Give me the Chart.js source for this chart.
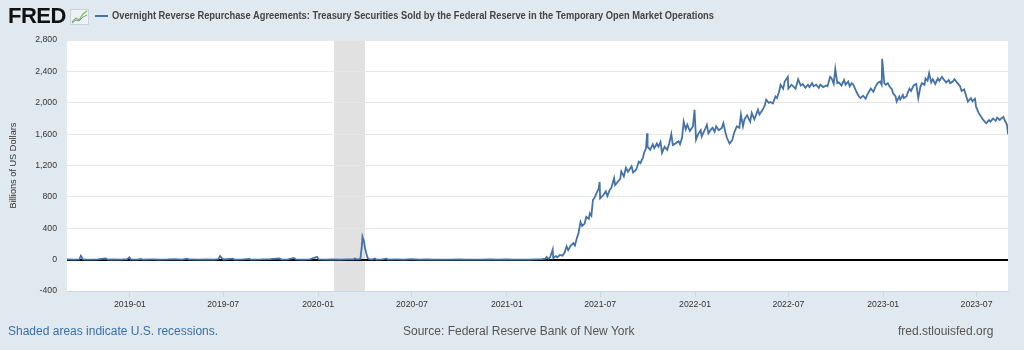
<!DOCTYPE html>
<html><head><meta charset="utf-8">
<script src="https://cdn.jsdelivr.net/npm/chart.js@4"></script>
<style>
html,body{margin:0;padding:0;background:#e1e9f0;width:1024px;height:350px;overflow:hidden;font-family:"Liberation Sans",Arial,sans-serif;}
#wrap{position:relative;width:1024px;height:350px;}
#chartBox{position:absolute;left:0;top:0;width:1024px;height:350px;}
#logo{position:absolute;left:8px;top:5px;font-weight:bold;font-size:22px;line-height:22px;letter-spacing:-0.5px;color:#111;}
#icon{position:absolute;left:70px;top:9px;}
#dash{position:absolute;left:95px;top:15px;width:13px;height:2px;background:#4572a7;}
#title{position:absolute;left:112px;top:10px;font-weight:bold;font-size:11px;line-height:11px;color:#444;white-space:nowrap;transform-origin:0 0;}
.foot{position:absolute;top:325px;font-size:12px;line-height:12px;white-space:nowrap;color:#555;}
</style>
</head><body>
<div id="wrap">
  <div id="chartBox"><canvas id="c"></canvas></div>
  <div id="logo">FRED</div>
  <svg id="icon" width="19" height="16"><rect x="0.5" y="0.5" width="18" height="15" fill="#eef2f5" stroke="#c9d3dc"/><polyline points="2,13 6,9 9,11 13,5 17,2" fill="none" stroke="#8dbb4f" stroke-width="1.3"/><polyline points="2,14 6,11 9,12 13,8 17,6" fill="none" stroke="#6b93c5" stroke-width="1"/></svg>
  <div id="dash"></div>
  <div id="title">Overnight Reverse Repurchase Agreements: Treasury Securities Sold by the Federal Reserve in the Temporary Open Market Operations</div>
  <div class="foot" style="left:8px;color:#3b6ea8;">Shaded areas indicate U.S. recessions.</div>
  <div class="foot" style="left:403px;">Source: Federal Reserve Bank of New York</div>
  <div class="foot" style="left:898px;">fred.stlouisfed.org</div>
</div>
<script>
// ---- data (billions of US dollars) ----
const obsDates = [
'2018-09-01','2018-09-14','2018-09-25','2018-09-28','2018-10-02','2018-10-16','2018-10-31','2018-11-15','2018-11-19','2018-11-30','2018-12-14','2018-12-27','2018-12-31',
'2019-01-03','2019-01-15','2019-01-23','2019-01-25','2019-02-15','2019-02-28','2019-03-15','2019-03-29','2019-04-12','2019-04-22','2019-04-25','2019-05-15','2019-05-31','2019-06-14','2019-06-21','2019-06-25','2019-06-28','2019-07-02','2019-07-19','2019-07-23','2019-08-09','2019-08-21','2019-08-23','2019-09-13','2019-09-30','2019-10-18','2019-10-22','2019-11-04','2019-11-15','2019-11-19','2019-12-02','2019-12-16','2019-12-30',
'2020-01-02','2020-01-15','2020-01-31','2020-02-14','2020-02-28','2020-03-10','2020-03-12','2020-03-16','2020-03-23','2020-03-26','2020-03-27','2020-03-30','2020-04-01','2020-04-03','2020-04-06','2020-04-09','2020-04-15','2020-04-20','2020-04-23','2020-05-04','2020-05-13','2020-05-15','2020-06-01','2020-06-15','2020-06-30','2020-07-15','2020-07-31','2020-08-14','2020-08-31','2020-09-15','2020-09-30','2020-10-15','2020-10-30','2020-11-13','2020-11-30','2020-12-15','2020-12-31',
'2021-01-15','2021-01-29','2021-02-12','2021-02-26','2021-03-10','2021-03-17','2021-03-19','2021-03-23','2021-03-26','2021-03-31','2021-04-01','2021-04-06','2021-04-09','2021-04-14','2021-04-19','2021-04-23','2021-04-27','2021-04-30','2021-05-05','2021-05-10','2021-05-13','2021-05-17','2021-05-20','2021-05-24','2021-05-27','2021-06-01','2021-06-04','2021-06-09','2021-06-11','2021-06-14','2021-06-17','2021-06-21','2021-06-24','2021-06-28','2021-06-30','2021-07-01','2021-07-07','2021-07-12','2021-07-15','2021-07-19','2021-07-23','2021-07-28','2021-07-30','2021-08-04','2021-08-09','2021-08-11','2021-08-16','2021-08-20','2021-08-24','2021-08-31','2021-09-03','2021-09-09','2021-09-14','2021-09-17','2021-09-22','2021-09-24','2021-09-28','2021-09-30','2021-10-01','2021-10-06','2021-10-11','2021-10-14','2021-10-19','2021-10-22','2021-10-26','2021-10-29','2021-11-03','2021-11-08','2021-11-12','2021-11-16','2021-11-19','2021-11-24','2021-11-30','2021-12-03','2021-12-07','2021-12-10','2021-12-14','2021-12-17','2021-12-22','2021-12-28','2021-12-31',
'2022-01-03','2022-01-07','2022-01-12','2022-01-14','2022-01-19','2022-01-24','2022-01-27','2022-02-01','2022-02-04','2022-02-08','2022-02-11','2022-02-16','2022-02-22','2022-02-25','2022-03-01','2022-03-04','2022-03-09','2022-03-14','2022-03-18','2022-03-23','2022-03-28','2022-03-31','2022-04-04','2022-04-07','2022-04-12','2022-04-18','2022-04-21','2022-04-26','2022-04-29','2022-05-03','2022-05-06','2022-05-11','2022-05-16','2022-05-19','2022-05-24','2022-05-27','2022-06-01','2022-06-06','2022-06-09','2022-06-13','2022-06-16','2022-06-21','2022-06-24','2022-06-30','2022-07-01','2022-07-07','2022-07-12','2022-07-15','2022-07-20','2022-07-25','2022-07-29','2022-08-03','2022-08-08','2022-08-11','2022-08-16','2022-08-19','2022-08-24','2022-08-29','2022-09-01','2022-09-07','2022-09-12','2022-09-15','2022-09-20','2022-09-23','2022-09-27','2022-09-30','2022-10-04','2022-10-07','2022-10-12','2022-10-17','2022-10-20','2022-10-25','2022-10-28','2022-11-01','2022-11-04','2022-11-10','2022-11-15','2022-11-18','2022-11-23','2022-11-28','2022-12-01','2022-12-05','2022-12-08','2022-12-13','2022-12-16','2022-12-21','2022-12-26','2022-12-29','2022-12-30',
'2023-01-03','2023-01-06','2023-01-10','2023-01-13','2023-01-18','2023-01-20','2023-01-25','2023-01-27','2023-02-01','2023-02-03','2023-02-08','2023-02-10','2023-02-15','2023-02-17','2023-02-21','2023-02-24','2023-03-01','2023-03-06','2023-03-10','2023-03-14','2023-03-17','2023-03-22','2023-03-24','2023-03-28','2023-03-31','2023-04-04','2023-04-07','2023-04-12','2023-04-17','2023-04-20','2023-04-25','2023-04-28','2023-05-03','2023-05-08','2023-05-11','2023-05-16','2023-05-19','2023-05-24','2023-05-30','2023-06-02','2023-06-07','2023-06-12','2023-06-14','2023-06-20','2023-06-23','2023-06-28','2023-06-30','2023-07-05','2023-07-10','2023-07-13','2023-07-18','2023-07-20','2023-07-25','2023-07-28','2023-08-02','2023-08-07','2023-08-10','2023-08-15','2023-08-18','2023-08-22','2023-08-25','2023-08-29','2023-08-31'
];
const obsValues = [
2,1,4,50,3,1,3,14,1,2,1,6,30,
2,1,10,1,2,1,2,6,1,12,2,1,4,1,6,45,20,2,12,1,2,10,1,2,6,14,1,2,20,2,1,3,35,
2,1,3,1,2,4,15,3,10,180,290,230,150,90,20,5,2,15,1,3,12,1,2,1,6,1,2,0,1,0,3,0,1,0,2,0,4,
0,1,0,3,6,12,35,10,30,130,20,45,30,60,50,90,170,120,180,210,180,275,340,480,430,460,545,520,590,560,760,800,850,900,990,780,820,870,810,880,920,1040,950,990,1030,1125,1060,1170,1120,1190,1110,1150,1250,1230,1300,1360,1420,1610,1440,1400,1470,1420,1480,1440,1500,1360,1440,1400,1480,1600,1460,1480,1510,1470,1560,1760,1660,1720,1640,1700,1910,
1530,1600,1650,1570,1640,1720,1610,1660,1680,1630,1700,1650,1680,1740,1620,1550,1480,1520,1620,1700,1680,1850,1700,1790,1840,1760,1870,1790,1840,1910,1850,1900,1960,2040,2000,2010,1990,2080,2060,2140,2230,2180,2270,2330,2180,2230,2200,2180,2300,2220,2240,2190,2230,2200,2250,2210,2230,2190,2230,2200,2220,2210,2330,2310,2240,2430,2250,2260,2220,2290,2230,2270,2210,2250,2230,2140,2080,2060,2090,2050,2100,2150,2180,2140,2190,2250,2270,2230,2560,
2250,2230,2250,2210,2170,2120,2080,2015,2080,2040,2100,2060,2080,2120,2180,2150,2220,2240,2060,2200,2250,2230,2310,2280,2375,2260,2300,2240,2310,2280,2330,2300,2260,2290,2250,2270,2300,2260,2210,2150,2170,2060,2015,2060,2020,2050,1950,1870,1820,1790,1750,1740,1780,1760,1800,1770,1810,1780,1800,1820,1770,1720,1600
];
const xStart = '2018-09-01';
const xEnd = '2023-08-31';
const xTickMonths = ['2019-01','2019-07','2020-01','2020-07','2021-01','2021-07','2022-01','2022-07','2023-01','2023-07'];
const yTickValues = [-400,0,400,800,1200,1600,2000,2400,2800];
const recessionStart = '2020-02-01';
const recessionEnd = '2020-04-01';

const toMs = d => Date.parse(d);
const FONT = '"Liberation Sans", Arial, sans-serif';

const bgPlugin = {
  id: 'bg',
  beforeDraw(chart) {
    const {ctx, chartArea: a, scales: {x}} = chart;
    ctx.save();
    ctx.fillStyle = '#ffffff';
    ctx.fillRect(a.left, a.top, a.right - a.left, a.bottom - a.top);
    const x0 = x.getPixelForValue(toMs(recessionStart));
    const x1 = x.getPixelForValue(toMs(recessionEnd));
    ctx.fillStyle = '#e1e1e1';
    ctx.fillRect(x0, a.top, x1 - x0, a.bottom - a.top);
    ctx.restore();
  }
};

new Chart(document.getElementById('c'), {
  type: 'line',
  data: {
    datasets: [{
      data: obsDates.map((d, i) => ({x: toMs(d), y: obsValues[i]})),
      borderColor: '#4572a7',
      borderWidth: 1.8,
      pointRadius: 0,
      tension: 0,
      fill: false
    }]
  },
  options: {
    responsive: true,
    maintainAspectRatio: false,
    animation: false,
    layout: {padding: {top: 40, right: 16, left: 0, bottom: 0}},
    plugins: {legend: {display: false}, tooltip: {enabled: false}},
    scales: {
      x: {
        type: 'linear',
        min: toMs(xStart),
        max: toMs(xEnd),
        afterBuildTicks: s => { s.ticks = xTickMonths.map(m => ({value: toMs(m + '-01')})); },
        afterFit: s => { s.height = 59; },
        ticks: {
          callback: v => { const d = new Date(v); return d.getUTCFullYear() + '-' + String(d.getUTCMonth() + 1).padStart(2, '0'); },
          color: '#333', font: {size: 8.7, family: FONT}, padding: 2, maxRotation: 0, autoSkip: false
        },
        grid: {drawOnChartArea: false, drawTicks: true, tickLength: 6, color: '#ccd6eb'},
        border: {display: true, color: '#ccd6eb'}
      },
      y: {
        min: -400,
        max: 2800,
        afterBuildTicks: s => { s.ticks = yTickValues.map(v => ({value: v})); },
        afterFit: s => { s.width = 67; },
        ticks: {callback: v => v.toLocaleString('en-US'), color: '#333', font: {size: 8.7, family: FONT}, padding: 10},
        grid: {
          color: c => (c.tick && c.tick.value === 0) ? '#000000' : '#e6e6e6',
          lineWidth: c => (c.tick && c.tick.value === 0) ? 2 : 1,
          drawTicks: false
        },
        border: {display: false},
        title: {display: true, text: 'Billions of US Dollars', color: '#333', font: {size: 9.2, family: FONT}, padding: {top: 8, bottom: 0}}
      }
    }
  },
  plugins: [bgPlugin]
});

const t = document.getElementById('title');
const w = t.getBoundingClientRect().width;
t.style.transform = 'scaleX(' + (602 / w) + ')';
</script>
</body></html>
